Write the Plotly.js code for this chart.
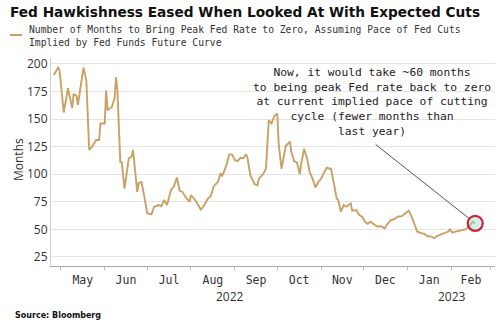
<!DOCTYPE html>
<html>
<head>
<meta charset="utf-8">
<script src="https://cdn.plot.ly/plotly-3.0.1.min.js"></script>
<style>html,body{margin:0;padding:0;background:#fff;}#chart{width:500px;height:328px;}</style>
</head>
<body>
<div id="chart"></div>
<script>
// Data
const dates = [
 '2022-04-26','2022-04-29','2022-04-30','2022-05-03','2022-05-06','2022-05-09','2022-05-10','2022-05-12','2022-05-13','2022-05-15',
 '2022-05-17','2022-05-19','2022-05-21','2022-05-23','2022-05-26','2022-05-28','2022-05-29','2022-06-01','2022-06-02','2022-06-03',
 '2022-06-06','2022-06-08','2022-06-09','2022-06-10','2022-06-12','2022-06-13','2022-06-15','2022-06-18','2022-06-20','2022-06-21',
 '2022-06-24','2022-06-25','2022-06-27','2022-06-29','2022-07-01','2022-07-04','2022-07-06','2022-07-09','2022-07-11','2022-07-13',
 '2022-07-15','2022-07-18','2022-07-20','2022-07-22','2022-07-24','2022-07-26','2022-07-28','2022-07-31','2022-08-01','2022-08-04',
 '2022-08-08','2022-08-10','2022-08-13','2022-08-15','2022-08-17','2022-08-20','2022-08-22','2022-08-23','2022-08-26','2022-08-28',
 '2022-08-30','2022-09-01','2022-09-03','2022-09-05','2022-09-07','2022-09-09','2022-09-10','2022-09-12','2022-09-15','2022-09-17',
 '2022-09-18','2022-09-21','2022-09-23','2022-09-25','2022-09-27','2022-09-29','2022-10-01','2022-10-02','2022-10-04','2022-10-07',
 '2022-10-10','2022-10-11','2022-10-13','2022-10-15','2022-10-17','2022-10-18','2022-10-20','2022-10-22','2022-10-24','2022-10-26',
 '2022-10-28','2022-10-30','2022-11-01','2022-11-03','2022-11-05','2022-11-07','2022-11-08','2022-11-10','2022-11-12','2022-11-13',
 '2022-11-15','2022-11-17','2022-11-19','2022-11-22','2022-11-23','2022-11-26','2022-11-28','2022-11-30','2022-12-02','2022-12-04',
 '2022-12-06','2022-12-09','2022-12-11','2022-12-13','2022-12-16','2022-12-18','2022-12-20','2022-12-23','2022-12-25','2022-12-28',
 '2022-12-30','2022-12-31','2023-01-02','2023-01-04','2023-01-06','2023-01-08','2023-01-11','2023-01-13','2023-01-15','2023-01-18',
 '2023-01-20','2023-01-22','2023-01-24','2023-01-27','2023-01-30','2023-01-31','2023-02-02','2023-02-04','2023-02-07','2023-02-09',
 '2023-02-11','2023-02-14','2023-02-16','2023-02-18'
];
const months = [
 190,196.6,194.5,156,178,160,173,171,163,180,
 196.6,185,122,125,131,131,146,146,176,158,
 161,169,188,175,111,111,87,114.5,116,122,
 84,92,93,80,64.6,63.7,70.6,72,71,76.7,
 72,86,89,97,85,84,79.6,75,81,76.7,
 68,71,78,80,89,93,101,98,108,118,
 118,113,112,115,114.5,118,114.5,99,91,90,
 96,100,105,149,146,153,155,128,105,125.6,
 129.5,120,112,110.5,100,110,123,114.5,102,96,
 88,93,96,101,106,105,105,92,78,77,
 66,72,70.6,73.6,67,67.6,63,61.5,57,55,
 57,54,52.5,53,51,55,58,59.5,61.5,62,
 64,65,67,61.5,54,48,46.5,46,44,43.4,
 42,44,45,46.5,48,50,47,48,49,49.5,
 50,53,57,55.5
];
const seriesName = 'Number of Months to Bring Peak Fed Rate to Zero, Assuming Pace of Fed Cuts<br>Implied by Fed Funds Future Curve';
const yTicks = [25, 50, 75, 100, 125, 150, 175, 200];
const years = ['2022', '2023'];
const titleText = 'Fed Hawkishness Eased When Looked At With Expected Cuts';
const noteText = 'Now, it would take ~60 months<br>to being peak Fed rate back to zero<br>at current implied pace of cutting<br>cycle (fewer months than<br>last year)';

const lineColor = '#c9a165';
const mono = 'DejaVu Sans Mono, monospace';
const lastX = dates[dates.length - 1];
const lastY = months[months.length - 1];

const traces = [
  {x: dates, y: months, type: 'scatter', mode: 'lines', name: seriesName,
   line: {color: lineColor, width: 1.9}, showlegend: false, hoverinfo: 'skip'},
  {x: [lastX], y: [lastY], type: 'scatter', mode: 'markers', showlegend: false, hoverinfo: 'skip',
   marker: {size: 15, color: 'rgba(150,225,205,0.45)', line: {color: '#d0203a', width: 2.2}}}
];

const layout = {
  width: 500, height: 328,
  margin: {l: 51, r: 5, t: 58, b: 62},
  paper_bgcolor: '#fff', plot_bgcolor: '#fff',
  showlegend: false,
  title: {text: '<b>' + titleText + '</b>', x: 10/500, xanchor: 'left', xref: 'container',
          y: 1 - 12/328, yanchor: 'middle', yref: 'container',
          font: {family: 'DejaVu Sans, Verdana, sans-serif', size: 13.7, color: '#111'}},
  xaxis: {type: 'date', range: ['2022-04-24', '2023-03-04'],
          dtick: 'M1', tick0: '2022-05-01', ticklabelmode: 'period', tickformat: '%b',
          ticks: 'outside', ticklen: 3, tickcolor: '#bbb',
          showgrid: false, showline: true, linecolor: '#aaa', linewidth: 1,
          tickfont: {family: mono, size: 11.5, color: '#333'}, zeroline: false},
  yaxis: {range: [16.8, 205.4], tickvals: yTicks, ticktext: yTicks.map(String),
          showgrid: true, gridcolor: '#e4e4e4', gridwidth: 1,
          showline: true, linecolor: '#cfcfcf', linewidth: 1, ticks: '', zeroline: false,
          tickfont: {family: 'Open Sans, Noto Sans, sans-serif', size: 12, color: '#333'}},
  shapes: [
    {type: 'line', xref: 'paper', yref: 'paper', x0: (10-51)/444, x1: (22-51)/444,
     y0: (266-35)/208, y1: (266-35)/208, line: {color: lineColor, width: 2}}
  ],
  annotations: [
    {xref: 'paper', yref: 'paper', x: (27-51)/444, y: (266-35.5)/208, xanchor: 'left', yanchor: 'middle',
     align: 'left', showarrow: false, text: seriesName,
     font: {family: mono, size: 9.7, color: '#333'}},
    {xref: 'paper', yref: 'paper', x: (372-51)/444, y: (266-101.5)/208, xanchor: 'center', yanchor: 'middle',
     align: 'center', showarrow: false, text: noteText,
     font: {family: mono, size: 11.3, color: '#222'}},
    {x: lastX, y: lastY, xref: 'x', yref: 'y', text: ' ', showarrow: true, arrowhead: 0,
     arrowwidth: 1, arrowcolor: '#555', ax: -101, ay: -80, standoff: 7, font: {size: 1}},
    {xref: 'paper', yref: 'paper', x: -33/444, y: (266-160)/208, textangle: -90, showarrow: false,
     text: 'Months', xanchor: 'center', yanchor: 'middle',
     font: {family: 'Open Sans, Noto Sans, sans-serif', size: 12, color: '#333'}},
    {xref: 'paper', yref: 'paper', x: (230-51)/444, y: (266-296)/208, showarrow: false, text: years[0],
     xanchor: 'center', yanchor: 'middle', font: {family: 'Open Sans, Noto Sans, sans-serif', size: 12, color: '#333'}},
    {xref: 'paper', yref: 'paper', x: (452-51)/444, y: (266-296)/208, showarrow: false, text: years[1],
     xanchor: 'center', yanchor: 'middle', font: {family: 'Open Sans, Noto Sans, sans-serif', size: 12, color: '#333'}},
    {xref: 'paper', yref: 'paper', x: (13-51)/444, y: (266-315)/208, showarrow: false,
     text: '<b>Source: Bloomberg</b>', xanchor: 'left', yanchor: 'middle',
     font: {family: 'DejaVu Sans, Verdana, sans-serif', size: 8, color: '#111'}}
  ]
};

Plotly.newPlot('chart', traces, layout, {displayModeBar: false, staticPlot: true});
</script>
</body>
</html>
